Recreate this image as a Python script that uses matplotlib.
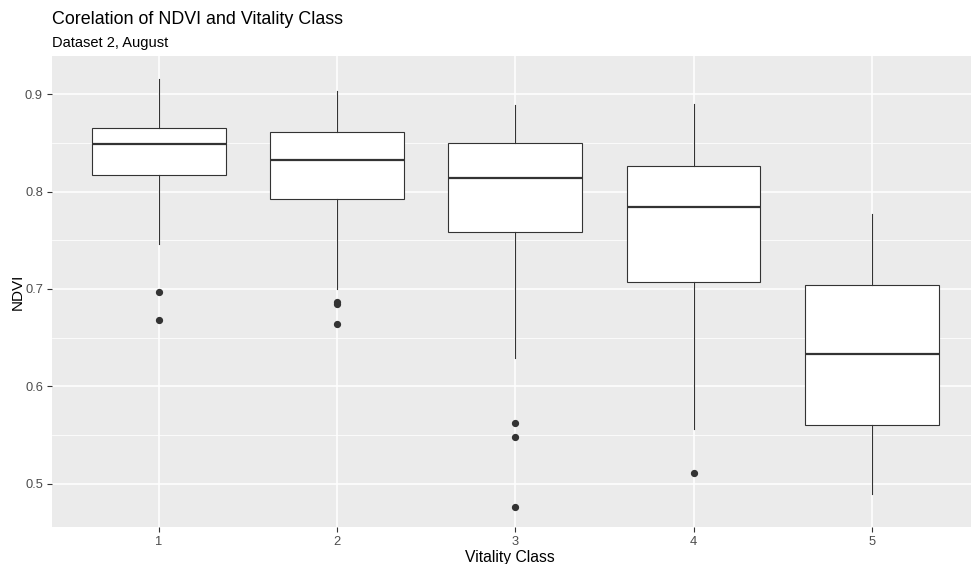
import matplotlib
matplotlib.use("Agg")
import matplotlib.pyplot as plt
from matplotlib.ticker import MultipleLocator

# Boxplot summary statistics per vitality class
classes = [1, 2, 3, 4, 5]
whisker_low = [0.746, 0.700, 0.629, 0.556, 0.489]
q1 = [0.817, 0.792, 0.758, 0.707, 0.560]
median = [0.849, 0.8325, 0.814, 0.784, 0.633]
q3 = [0.865, 0.861, 0.850, 0.826, 0.704]
whisker_high = [0.916, 0.903, 0.889, 0.890, 0.777]
outliers = [
    [0.697, 0.668],
    [0.687, 0.684, 0.664],
    [0.562, 0.548, 0.476],
    [0.5105],
    [],
]

title = "Corelation of NDVI and Vitality Class"
subtitle = "Dataset 2, August"
xlabel = "Vitality Class"
ylabel = "NDVI"

W, H, DPI = 971, 564, 100
fig = plt.figure(figsize=(W / DPI, H / DPI), dpi=DPI)
fig.patch.set_facecolor("white")

left, right, top, bottom = 52, 971, 56, 527
ax = fig.add_axes([left / W, 1 - bottom / H, (right - left) / W, (bottom - top) / H])
ax.set_facecolor("#EBEBEB")

stats = []
for i in range(len(classes)):
    stats.append(dict(med=median[i], q1=q1[i], q3=q3[i],
                      whislo=whisker_low[i], whishi=whisker_high[i],
                      fliers=outliers[i], label=str(classes[i])))

dark = "#333333"
ax.bxp(stats, positions=classes, widths=0.75, patch_artist=True,
       showcaps=False, zorder=3,
       boxprops=dict(facecolor="white", edgecolor=dark, linewidth=0.8),
       medianprops=dict(color=dark, linewidth=1.6),
       whiskerprops=dict(color=dark, linewidth=0.8),
       flierprops=dict(marker="o", markerfacecolor=dark, markeredgecolor=dark,
                       markersize=4.2, linestyle="none"))

# axis limits: discrete padding of 0.6 on the left, panel runs off to the right edge
ax.set_xlim(0.4, 0.4 + (right - left) / 178.2)
ax.set_ylim(0.4553, 0.9394)

ax.yaxis.set_minor_locator(MultipleLocator(0.05))
ax.set_yticks([0.5, 0.6, 0.7, 0.8, 0.9])
ax.set_yticklabels(["0.5", "0.6", "0.7", "0.8", "0.9"])
ax.set_xticks(classes)
ax.set_xticklabels([str(c) for c in classes])

ax.grid(which="major", color="white", linewidth=1.1, zorder=0)
ax.grid(which="minor", axis="y", color="white", linewidth=0.55, zorder=0)
ax.set_axisbelow(True)
for s in ax.spines.values():
    s.set_visible(False)

ax.tick_params(which="major", length=3.3, width=0.8, color=dark,
               labelsize=9.3, labelcolor="#4D4D4D", pad=3.2)
ax.tick_params(which="minor", length=0)

fam = ["Liberation Sans", "DejaVu Sans"]
for lab in ax.get_xticklabels() + ax.get_yticklabels():
    lab.set_family(fam)

fig.text(left / W, 1 - 24 / H, title, fontsize=12.9, family=fam, color="black",
         ha="left", va="baseline")
fig.text(left / W, 1 - 47 / H, subtitle, fontsize=10.5, family=fam, color="black",
         ha="left", va="baseline")
fig.text((left + right) / 2 / W - 1.5 / W, 1 - 562 / H, xlabel, fontsize=11.3,
         family=fam, color="black", ha="center", va="baseline")
fig.text(18 / W, 1 - (top + bottom) / 2 / H, ylabel, fontsize=11, family=fam,
         color="black", ha="center", va="center", rotation=90)

fig.savefig("out.png", dpi=DPI)
